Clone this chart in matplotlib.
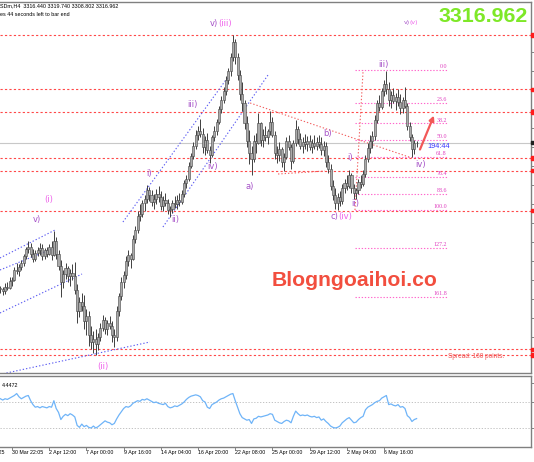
import numpy as np
import matplotlib.pyplot as plt
import matplotlib.transforms as mtransforms
from matplotlib.patches import Rectangle

plt.rcParams['font.family'] = ['Liberation Sans', 'DejaVu Sans']

# XAUUSD H4 bars, 27 Mar - 9 May 2025
first_open = 3070
highs = [3074, 3072, 3078, 3080, 3088, 3088, 3106, 3112, 3110, 3118,
         3128, 3140, 3149, 3146, 3136, 3134, 3140, 3146, 3144, 3138,
         3140, 3144, 3150, 3167, 3156, 3134, 3118, 3100, 3112, 3108,
         3102, 3110, 3114, 3076, 3054, 3062, 3058, 3034, 3030, 3006,
         2996, 3000, 2994, 3010, 3024, 3020, 3016, 3022, 3014, 3000,
         3040, 3062, 3088, 3098, 3124, 3134, 3130, 3160, 3176, 3200,
         3212, 3220, 3228, 3245, 3242, 3236, 3230, 3238, 3244, 3234,
         3226, 3232, 3222, 3210, 3220, 3226, 3228, 3232, 3236, 3254,
         3262, 3284, 3300, 3318, 3338, 3346, 3357, 3342, 3328, 3334,
         3312, 3330, 3346, 3358, 3380, 3396, 3412, 3430, 3444, 3470,
         3500, 3494, 3470, 3440, 3420, 3390, 3362, 3338, 3312, 3330,
         3334, 3368, 3352, 3340, 3346, 3340, 3371, 3360, 3336, 3312,
         3318, 3310, 3300, 3326, 3330, 3314, 3322, 3355, 3346, 3334,
         3326, 3332, 3328, 3330, 3324, 3330, 3326, 3330, 3326, 3320,
         3318, 3296, 3280, 3254, 3240, 3232, 3234, 3246, 3256, 3262,
         3270, 3266, 3246, 3240, 3256, 3262, 3270, 3296, 3316, 3330,
         3336, 3364, 3390, 3398, 3410, 3424, 3438, 3420, 3404, 3410,
         3402, 3408, 3400, 3394, 3412, 3384, 3352, 3332, 3322, 3319.74]
lows = [3062, 3058, 3060, 3066, 3068, 3074, 3082, 3094, 3090, 3100,
        3108, 3120, 3130, 3122, 3114, 3116, 3124, 3126, 3118, 3120,
        3122, 3126, 3118, 3124, 3120, 3100, 3054, 3070, 3086, 3080,
        3074, 3084, 3060, 3010, 3020, 3030, 3000, 2990, 2972, 2966,
        2960, 2956, 2964, 2980, 2996, 2992, 2990, 3000, 2978, 2970,
        2980, 3022, 3050, 3070, 3086, 3108, 3104, 3118, 3146, 3164,
        3184, 3190, 3200, 3214, 3218, 3210, 3204, 3212, 3216, 3202,
        3200, 3210, 3196, 3190, 3198, 3206, 3204, 3210, 3212, 3224,
        3240, 3252, 3274, 3290, 3306, 3322, 3326, 3300, 3296, 3300,
        3283, 3292, 3320, 3330, 3348, 3368, 3384, 3398, 3416, 3430,
        3456, 3450, 3424, 3390, 3370, 3340, 3310, 3280, 3262, 3284,
        3300, 3314, 3312, 3310, 3320, 3314, 3330, 3326, 3290, 3282,
        3286, 3276, 3268, 3290, 3304, 3272, 3282, 3312, 3314, 3306,
        3300, 3306, 3302, 3304, 3300, 3306, 3304, 3308, 3296, 3294,
        3276, 3266, 3236, 3220, 3204, 3202, 3210, 3212, 3232, 3236,
        3240, 3232, 3222, 3222, 3230, 3240, 3244, 3258, 3284, 3300,
        3308, 3322, 3350, 3370, 3374, 3396, 3400, 3380, 3376, 3384,
        3372, 3380, 3366, 3368, 3376, 3338, 3320, 3292, 3298, 3308.802]
closes = [3068, 3064, 3072, 3070, 3082, 3084, 3100, 3098, 3106, 3112,
          3124, 3136, 3140, 3128, 3120, 3130, 3134, 3138, 3124, 3134,
          3128, 3140, 3126, 3150, 3128, 3108, 3080, 3094, 3104, 3090,
          3096, 3090, 3066, 3030, 3046, 3040, 3014, 3022, 2990, 2978,
          2984, 2974, 2986, 3002, 3016, 3000, 3010, 3006, 2990, 2986,
          3030, 3056, 3080, 3092, 3116, 3126, 3120, 3154, 3168, 3192,
          3196, 3214, 3222, 3236, 3228, 3216, 3222, 3230, 3224, 3210,
          3220, 3214, 3202, 3204, 3214, 3212, 3220, 3216, 3230, 3248,
          3256, 3278, 3294, 3312, 3330, 3336, 3332, 3310, 3322, 3304,
          3296, 3326, 3336, 3352, 3374, 3390, 3404, 3424, 3438, 3462,
          3488, 3462, 3432, 3400, 3384, 3350, 3320, 3300, 3290, 3320,
          3316, 3350, 3322, 3330, 3326, 3336, 3352, 3330, 3300, 3296,
          3306, 3284, 3292, 3320, 3310, 3286, 3316, 3340, 3324, 3312,
          3318, 3314, 3320, 3310, 3316, 3312, 3318, 3314, 3304, 3312,
          3284, 3272, 3244, 3228, 3214, 3224, 3218, 3240, 3248, 3244,
          3262, 3240, 3232, 3236, 3250, 3246, 3264, 3290, 3308, 3320,
          3328, 3356, 3384, 3378, 3404, 3416, 3408, 3390, 3398, 3388,
          3394, 3386, 3376, 3390, 3380, 3346, 3326, 3306, 3316.44, 3316.962]
rsi = [75, 73, 75, 74, 76, 78, 80, 83, 78, 75,
       77, 79, 80, 72, 66, 62, 63, 61, 63, 62,
       61, 63, 62, 72, 60, 54, 43, 48, 51, 49,
       52, 50, 47, 34, 31, 36, 32, 34, 31, 30,
       33, 30, 32, 35, 38, 41, 39, 38, 35, 37,
       44, 50, 55, 60, 63, 62, 64, 68, 70, 72,
       71, 74, 73, 75, 73, 71, 69, 70, 68, 67,
       66, 68, 63, 61, 62, 64, 63, 65, 67, 70,
       74, 77, 79, 80, 81, 80, 78, 72, 70, 62,
       60, 66, 68, 70, 73, 75, 76, 78, 80, 82,
       83, 72, 62, 52, 46, 44, 42, 43, 37, 44,
       45, 48, 47, 48, 49, 50, 52, 51, 42, 40,
       38, 37, 40, 42, 41, 38, 48, 56, 52, 49,
       50, 49, 50, 48, 47, 48, 46, 47, 42, 44,
       40, 37, 33, 31, 30, 31, 33, 38, 41, 44,
       46, 42, 38, 39, 43, 46, 48, 58, 62, 64,
       66, 69, 71, 72, 76, 78, 80, 66, 67, 65,
       64, 66, 62, 63, 60, 49, 46, 40, 43, 44.4472]

tick_bars = [-11, 5, 21, 37, 53, 69, 85, 101, 117, 133, 149, 165]
tick_labels = ['27 Mar 2025', '30 Mar 22:05', '2 Apr 12:00', '7 Apr 00:00',
               '9 Apr 16:00', '14 Apr 04:00', '16 Apr 20:00', '22 Apr 08:00',
               '25 Apr 00:00', '29 Apr 12:00', '2 May 04:00', '6 May 16:00']

levels = [3500, 3408, 3369, 3291, 3269, 3201, 2966, 2956]
bid = 3316.962

fib_100, fib_0 = 3202.5, 3440.5
fib_ratios = [0.0, 23.6, 38.2, 50.0, 61.8, 76.4, 88.6, 100.0, 127.2, 161.8]

# chart objects: (bar, price) anchors
blue_lines = [((-0.2, 3120.9), (23.5, 3168.5)),
              ((-0.2, 3100.5), (24.3, 3139.6)),
              ((-0.2, 3027.4), (35.1, 3093.7)),
              ((-0.2, 2923.0), (64.3, 2978.1)),
              ((52.7, 3182.1), (97.9, 3428.6)),
              ((69.9, 3173.6), (115.1, 3432.0))]
red_lines = [((107.4, 3384.4), (177.0, 3290.9)),
             ((119.4, 3263.7), (139.6, 3268.8)),
             ((152.5, fib_100), (156.0, fib_0))]

purple = '#a652c8'
pink = '#ee62ea'
wave_labels = [('(i)', 20.9, 3221, pink, 'center'),
               ('v)', 15.7, 3187, purple, 'center'),
               ('(ii)', 44.1, 2936, pink, 'center'),
               ('i)', 63.9, 3265, purple, 'center'),
               ('ii)', 75.1, 3186, purple, 'center'),
               ('iii)', 82.8, 3381, purple, 'center'),
               ('iv)', 91.4, 3276, purple, 'center'),
               ('v)', 93.6, 3519, purple, 'right'),
               ('(iii)', 93.6, 3519, pink, 'left'),
               ('a)', 107.4, 3243, purple, 'center'),
               ('b)', 140.5, 3332, purple, 'center'),
               ('c)', 145.3, 3191, purple, 'right'),
               ('(iv)', 145.3, 3191, pink, 'left'),
               ('i)', 150.4, 3291, purple, 'center'),
               ('ii)', 152.5, 3213, purple, 'center'),
               ('iii)', 164.6, 3449, purple, 'center'),
               ('iv)', 180.9, 3279, purple, 'center')]

n = len(closes)
x = np.arange(n)
opens = [first_open] + closes[:-1]

W, H = 534, 462
fig = plt.figure(figsize=(W / 100, H / 100), dpi=100)
ax = fig.add_axes([0, 89 / H, 531 / W, 371 / H])
ax2 = fig.add_axes([0, 15 / H, 531 / W, 71 / H])
xlim = (-0.172, 228.2)

# ---- main price panel
ax.set_xlim(*xlim)
ax.set_ylim(2925.4, 3556.1)

for p in levels:
    ax.axhline(p, color='#ff4848', lw=0.8, ls=(0, (2, 2)), zorder=1)
ax.axhline(bid, color='#c8c8c8', lw=0.8, zorder=1)

trans = mtransforms.blended_transform_factory(ax.transAxes, ax.transData)
for p in levels:
    ax.add_patch(Rectangle((1.0, p - 2.7), 0.006, 5.4, transform=trans,
                           clip_on=False, color='#ff1c1c', zorder=5))
ax.add_patch(Rectangle((1.0, bid - 2.7), 0.006, 5.4, transform=trans,
                       clip_on=False, color='#202020', zorder=5))

# fibo
for r in fib_ratios:
    lv = fib_0 - r / 100 * (fib_0 - fib_100)
    ax.plot([152.5, 192], [lv, lv], color='#ff66cc', lw=0.8,
            ls=(0, (1.2, 1.6)), zorder=2)
    ax.text(192, lv + 1.5, f'{r:.1f}', ha='right', va='bottom', fontsize=4.3,
            color='#e040c0', family='Liberation Serif')

for (x0, y0), (x1, y1) in blue_lines:
    ax.plot([x0, x1], [y0, y1], color='#5c5cf2', lw=0.8, ls=(0, (1.2, 1.8)), zorder=2)
for (x0, y0), (x1, y1) in red_lines:
    ax.plot([x0, x1], [y0, y1], color='#f26060', lw=0.8, ls=(0, (1.2, 1.8)), zorder=2)

# candles
body_lo = np.minimum(opens, closes)
body_h = np.maximum(np.abs(np.array(closes) - np.array(opens)), 0.8)
ax.vlines(x, lows, highs, color='#404040', lw=0.7, zorder=3)
ax.bar(x, body_h, bottom=body_lo, width=0.9, color='#aaaaaa',
       edgecolor='#454545', linewidth=0.4, zorder=4)

for txt, bx, py, col, ha in wave_labels:
    ax.text(bx, py, txt, color=col, fontsize=6, ha=ha, va='center',
            family='DejaVu Sans', zorder=6)
ax.text(176.0, 3522, 'v)', color=purple, fontsize=4.5, ha='right', va='center',
        family='DejaVu Sans')
ax.text(176.0, 3522, '(v)', color=pink, fontsize=4.5, ha='left', va='center',
        family='DejaVu Sans')

ax.annotate('', xy=(186.9, 3367.4), xytext=(180.0, 3301),
            arrowprops=dict(arrowstyle='-|>', color='#f25858', lw=1.6,
                            mutation_scale=7), zorder=7)
ax.text(183.5, 3311, '194:44', color='#3838ff', fontsize=5.2, ha='left', va='center')
ax.text(192.5, 2952.6, 'Spread: 160 points.', color='#f05050', fontsize=4.7,
        ha='left', va='center')
ax.text(116.8, 3081.8, 'Blogngoaihoi.co', color='#f24e3e', fontsize=15.2,
        fontweight='bold', ha='left', va='center', zorder=8)

ax.spines['left'].set_visible(False)
for s in ['top', 'right', 'bottom']:
    ax.spines[s].set_color('#808080')
    ax.spines[s].set_linewidth(1.0)
ax.set_xticks([])
ax.yaxis.tick_right()
ax.set_yticks(np.arange(3471.5, 2926, -32.3))
ax.tick_params(axis='y', length=2, width=0.6, colors='#707070',
               labelright=False, direction='out')

# ---- RSI panel
ax2.set_xlim(*xlim)
ax2.set_ylim(0.77, 110)
ax2.axhline(70, color='#b8b8b8', lw=0.6, ls=(0, (1.5, 2)))
ax2.axhline(30, color='#b8b8b8', lw=0.6, ls=(0, (1.5, 2)))
ax2.plot(x, rsi, color='#6fb4f8', lw=0.9)
ax2.text(0.004, 0.873, '4.4472', transform=ax2.transAxes, fontsize=3.9,
         ha='left', va='center')
ax2.spines['left'].set_visible(False)
for s in ['top', 'right', 'bottom']:
    ax2.spines[s].set_color('#808080')
    ax2.spines[s].set_linewidth(1.0)
ax2.yaxis.tick_right()
ax2.set_yticks([100, 70, 30])
ax2.tick_params(axis='y', length=2, width=0.6, colors='#707070',
                labelright=False, direction='out')
ax2.set_xticks([t for t in tick_bars if t >= 0])
ax2.tick_params(axis='x', length=2, width=0.6, colors='#707070',
                labelbottom=False, direction='out')
btrans = mtransforms.blended_transform_factory(ax2.transData, ax2.transAxes)
for tb, lab in zip(tick_bars, tick_labels):
    ax2.text(tb, -0.075, lab, transform=btrans, fontsize=3.8, ha='left',
             va='center', clip_on=False)

# ---- header texts
fig.text(0.0, 1 - 6 / H, 'SDm,H4  3316.440 3319.740 3308.802 3316.962',
         fontsize=3.9, ha='left', va='center')
fig.text(0.0, 1 - 14.5 / H, 'es 44 seconds left to bar end', fontsize=3.9,
         ha='left', va='center')
fig.text(528 / W, 1 - 16 / H, '3316.962', fontsize=15.4, fontweight='bold',
         color='#7ee828', ha='right', va='center')

fig.savefig('out.png', dpi=100)
